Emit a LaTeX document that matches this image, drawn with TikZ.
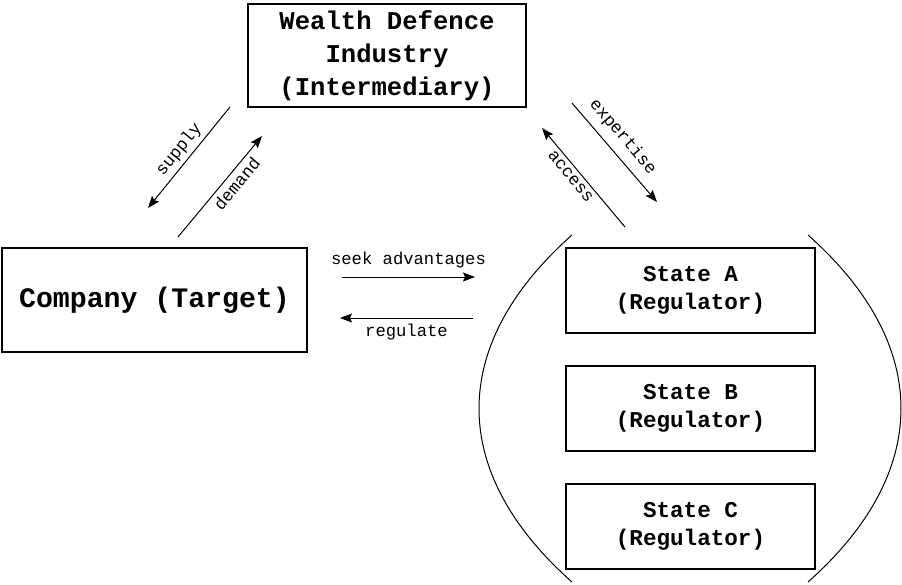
\documentclass[tikz,border=0pt]{standalone}
\usepackage{fontspec}
\setmonofont{Liberation Mono}
\usetikzlibrary{arrows.meta}
\begin{document}
\begin{tikzpicture}[x=0.5pt,y=-0.5pt,
                    box/.style={draw,line width=0.6pt,inner sep=0pt,align=center,font=\ttfamily\bfseries},
                    statebox/.style={box,minimum width=124.5pt,minimum height=42.5pt,font=\ttfamily\bfseries\fontsize{11.3}{14}\selectfont},
                    flow/.style={line width=0.5pt,-{Stealth[length=6pt,width=4.5pt,inset=1pt]}},
                    lbl/.style={font=\ttfamily\fontsize{8.6}{10}\selectfont,inner sep=2pt}]
                    \useasboundingbox (0,0) rectangle (902,585);
                    \node[box,minimum width=139pt,minimum height=51.5pt,font=\ttfamily\bfseries\fontsize{12.8}{16.5}\selectfont] (wdi) at (387,55.5) {Wealth Defence\\Industry\\(Intermediary)};
                    \node[box,minimum width=152.5pt,minimum height=52pt,font=\ttfamily\bfseries\fontsize{14.1}{17}\selectfont] (company) at (154.5,300) {Company (Target)};
                    \node[statebox] (stateA) at (690.5,290.5) {State A\\(Regulator)};
                    \node[statebox] (stateB) at (690.5,408.5) {State B\\(Regulator)};
                    \node[statebox] (stateC) at (690.5,526.5) {State C\\(Regulator)};
                    \draw[line width=0.5pt] (572,235) .. controls (448,345) and (448,472) .. (572,582);
                    \draw[line width=0.5pt] (808,235) .. controls (932,345) and (932,472) .. (808,582);
                    \coordinate (supS) at (230,107);
                    \coordinate (supE) at (148,208);
                    \coordinate (demS) at (178,237);
                    \coordinate (demE) at (262,136);
                    \coordinate (accS) at (625,227);
                    \coordinate (accE) at (542,128);
                    \coordinate (expS) at (572,103);
                    \coordinate (expE) at (657,202);
                    \coordinate (seekS) at (342,277);
                    \coordinate (seekE) at (475,277);
                    \coordinate (regS) at (473,318);
                    \coordinate (regE) at (340,318);
                    \draw[flow] (supS) -- node[lbl,sloped,above] {supply} (supE);
                    \draw[flow] (demS) -- node[lbl,sloped,below,pos=0.6] {demand} (demE);
                    \draw[flow] (accS) -- node[lbl,sloped,below,pos=0.57] {access} (accE);
                    \draw[flow] (expS) -- node[lbl,sloped,above=2pt,pos=0.45] {expertise} (expE);
                    \draw[flow] (seekS) -- node[lbl,above=2pt] {seek advantages} (seekE);
                    \draw[flow] (regS) -- node[lbl,below=1pt] {regulate} (regE);
                \end{tikzpicture}
\end{document}
